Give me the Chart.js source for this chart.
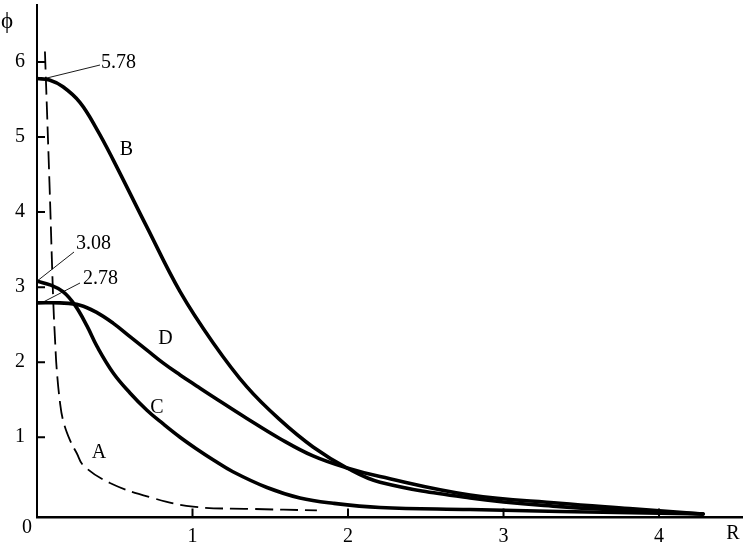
<!DOCTYPE html>
<html>
<head>
<meta charset="utf-8">
<script src="https://cdn.jsdelivr.net/npm/chart.js@4/dist/chart.umd.min.js"></script>
<style>
  html, body { margin: 0; padding: 0; background: #fff; }
  #wrap { width: 743px; height: 546px; position: relative; }
</style>
</head>
<body>
<div id="wrap"><canvas id="phiChart"></canvas></div>
<script>
/* ── Data ─────────────────────────────────────────────────────────────── */
const X_TICKS = [1, 2, 3, 4];
const Y_TICKS = [1, 2, 3, 4, 5, 6];

// A – dashed
const R_A   = [0.051, 0.08, 0.105, 0.116, 0.127, 0.148, 0.167, 0.212, 0.255, 0.30, 0.469, 0.727, 1.003, 1.37, 1.80];
const PHI_A = [6.14, 4.40, 2.79, 2.30, 1.90, 1.46, 1.23, 0.96, 0.79, 0.62, 0.39, 0.20, 0.075, 0.045, 0.025];

// B
const R_B   = [0, 0.08, 0.167, 0.277, 0.386, 0.489, 0.707, 0.920, 1.132, 1.350, 1.563, 1.775, 1.994, 2.206, 2.785, 3.363, 3.81, 4.283];
const PHI_B = [5.78, 5.76, 5.67, 5.46, 5.10, 4.70, 3.80, 2.94, 2.26, 1.67, 1.23, 0.87, 0.59, 0.40, 0.19, 0.075, 0.024, -0.023];

// C
const R_C   = [0, 0.084, 0.167, 0.244, 0.322, 0.386, 0.489, 0.598, 0.707, 0.810, 0.920, 1.029, 1.132, 1.260, 1.479, 1.691, 1.904, 2.206, 2.785, 3.363, 4.283];
const PHI_C = [3.08, 3.03, 2.94, 2.76, 2.48, 2.21, 1.86, 1.59, 1.36, 1.18, 1.00, 0.84, 0.70, 0.54, 0.33, 0.19, 0.12, 0.064, 0.037, 0.01, -0.023];

// D
const R_D   = [0, 0.148, 0.277, 0.386, 0.489, 0.598, 0.707, 0.810, 0.920, 1.029, 1.132, 1.350, 1.563, 1.775, 1.994, 2.206, 2.785, 3.363, 3.81, 4.283];
const PHI_D = [2.79, 2.79, 2.76, 2.66, 2.52, 2.34, 2.16, 1.99, 1.83, 1.68, 1.54, 1.25, 0.98, 0.75, 0.59, 0.475, 0.23, 0.12, 0.05, -0.023];

const CURVE_NAMES = ['A', 'B', 'C', 'D'];
const START_VALUES = ['5.78', '3.08', '2.78'];

/* ── Look ─────────────────────────────────────────────────────────────── */
const FONT = '"Liberation Serif", "DejaVu Serif", serif';
const FS = 20;

const pts = (xs, ys) => xs.map((x, i) => ({ x, y: ys[i] }));

const solid = { borderColor: '#000', borderWidth: 3.6, pointRadius: 0, showLine: true,
                tension: 0.4, borderCapStyle: 'round', borderJoinStyle: 'round' };

/* ── Annotations: ticks inward, curve letters, start-value leaders ───── */
const decor = {
  id: 'decor',
  afterDraw(chart) {
    const { ctx, chartArea: a, scales: { x, y } } = chart;
    ctx.save();
    ctx.strokeStyle = '#000';
    ctx.fillStyle = '#000';

    // inward tick marks
    ctx.lineWidth = 2;
    ctx.beginPath();
    Y_TICKS.forEach(v => { const py = y.getPixelForValue(v); ctx.moveTo(a.left, py); ctx.lineTo(a.left + 8, py); });
    X_TICKS.forEach(v => { const px = x.getPixelForValue(v); ctx.moveTo(px, a.bottom); ctx.lineTo(px, a.bottom - 9); });
    ctx.stroke();

    ctx.font = FS + 'px ' + FONT;
    ctx.textBaseline = 'middle';

    // origin, axis names
    ctx.textAlign = 'center';
    ctx.fillText('0', 27, 528);
    ctx.fillText('R', 733, 534);
    ctx.font = '23px ' + FONT;
    ctx.fillText('ϕ', 7, 22);
    ctx.font = FS + 'px ' + FONT;

    // curve letters
    const letterPos = { A: [99, 453], B: [126.5, 150], C: [157, 408], D: [165.5, 339] };
    CURVE_NAMES.forEach(n => ctx.fillText(n, letterPos[n][0], letterPos[n][1]));

    // leader lines to the values at R = 0
    ctx.lineWidth = 0.9;
    const leaders = [
      { r: 0.05, v: 5.78, tx: 101, ty: 62.5, ex: 100, ey: 65 },
      { r: 0,    v: 3.08, tx: 76,  ty: 243.5, ex: 74, ey: 252 },
      { r: 0.02, v: 2.78, tx: 83,  ty: 278.5, ex: 80, ey: 283 },
    ];
    ctx.textAlign = 'left';
    leaders.forEach((l, i) => {
      ctx.beginPath();
      ctx.moveTo(x.getPixelForValue(l.r), y.getPixelForValue(l.v));
      ctx.lineTo(l.ex, l.ey);
      ctx.stroke();
      ctx.fillText(START_VALUES[i], l.tx, l.ty);
    });
    ctx.restore();
  }
};

new Chart(document.getElementById('phiChart'), {
  type: 'scatter',
  data: {
    datasets: [
      { label: 'A', data: pts(R_A, PHI_A), borderColor: '#000', borderWidth: 1.8, borderDash: [18, 7],
        pointRadius: 0, showLine: true, tension: 0.4 },
      { label: 'B', data: pts(R_B, PHI_B), ...solid },
      { label: 'C', data: pts(R_C, PHI_C), ...solid },
      { label: 'D', data: pts(R_D, PHI_D), ...solid },
    ],
  },
  options: {
    responsive: true, maintainAspectRatio: false, animation: false,
    layout: { padding: { top: 5, right: 0, left: 0, bottom: 0 } },
    plugins: { legend: { display: false }, tooltip: { enabled: false } },
    scales: {
      x: {
        type: 'linear', min: 0, max: 4.54,
        afterBuildTicks: s => { s.ticks = X_TICKS.map(v => ({ value: v })); },
        afterFit: s => { s.height = 28.5; s.paddingLeft = 0; s.paddingRight = 0; },
        grid: { display: false, drawTicks: false },
        border: { display: true, color: '#000', width: 2.5 },
        ticks: { color: '#000', font: { family: FONT, size: FS }, padding: 7, maxRotation: 0 },
      },
      y: {
        type: 'linear', min: -0.07, max: 6.76,
        afterBuildTicks: s => { s.ticks = Y_TICKS.map(v => ({ value: v })); },
        afterFit: s => { s.width = 37; s.paddingTop = 0; s.paddingBottom = 0; },
        grid: { display: false, drawTicks: false },
        border: { display: true, color: '#000', width: 2 },
        ticks: { color: '#000', font: { family: FONT, size: FS }, padding: 12 },
      },
    },
  },
  plugins: [decor],
});
</script>
</body>
</html>
